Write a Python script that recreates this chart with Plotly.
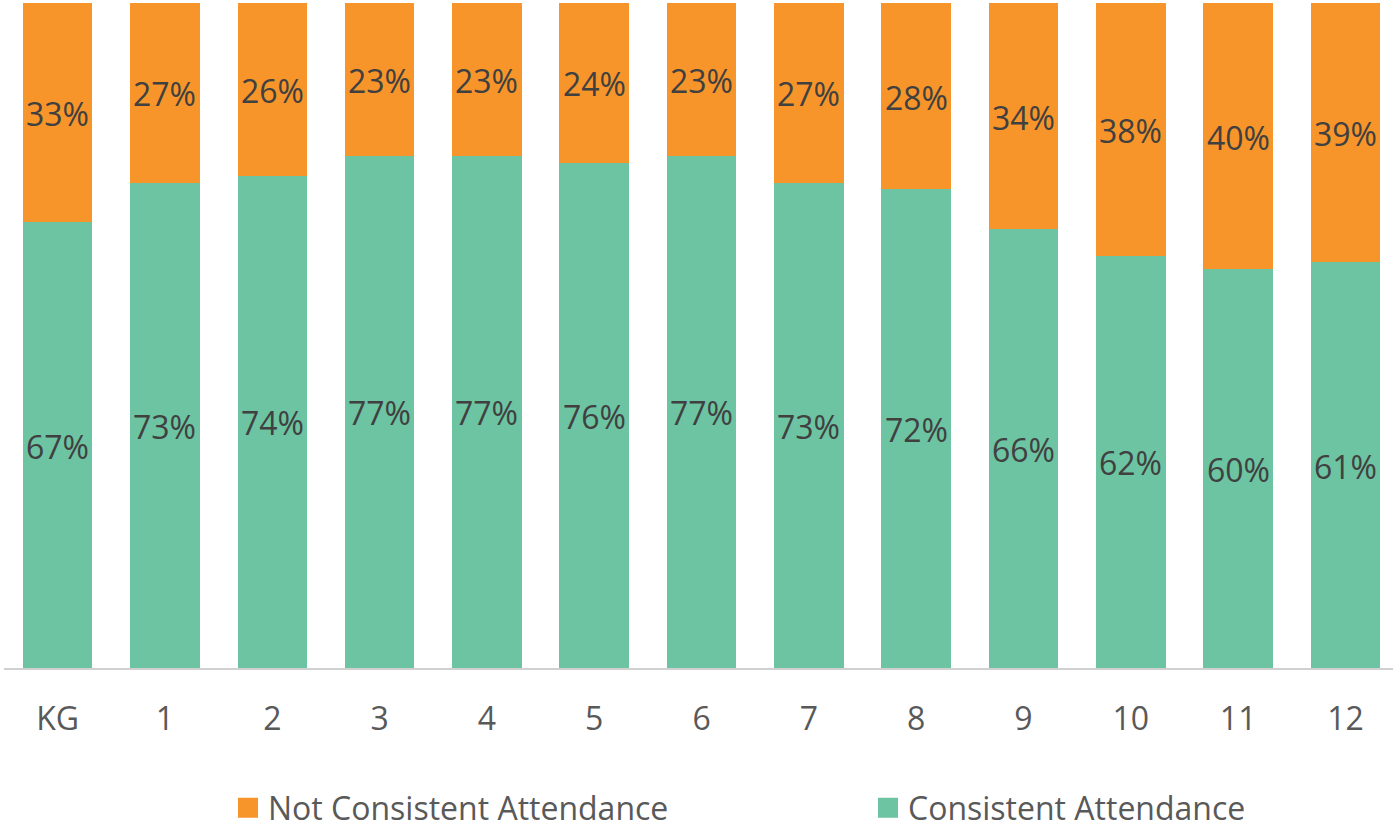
import plotly.graph_objects as go

grades = ["KG", "1", "2", "3", "4", "5", "6", "7", "8", "9", "10", "11", "12"]
consistent = [67, 73, 74, 77, 77, 76, 77, 73, 72, 66, 62, 60, 61]
not_consistent = [33, 27, 26, 23, 23, 24, 23, 27, 28, 34, 38, 40, 39]

GREEN = "#6DC4A2"
ORANGE = "#F7952B"
FONT = "Open Sans"
FS = 32

fig = go.Figure()

# stacked bars
fig.add_trace(go.Bar(
    x=grades, y=consistent, name="Consistent Attendance",
    marker=dict(color=GREEN, line=dict(width=0)),
    showlegend=False, hoverinfo="skip",
))
fig.add_trace(go.Bar(
    x=grades, y=not_consistent, name="Not Consistent Attendance",
    marker=dict(color=ORANGE, line=dict(width=0)),
    showlegend=False, hoverinfo="skip",
))

# percentage labels centred in each segment
mid_green = [c / 2 for c in consistent]
mid_orange = [c + n / 2 for c, n in zip(consistent, not_consistent)]
for mids, vals in ((mid_green, consistent), (mid_orange, not_consistent)):
    for g, m, v in zip(grades, mids, vals):
        fig.add_annotation(
            x=g, y=m, text=f"{v}%", showarrow=False, yshift=-1,
            xanchor="center", yanchor="middle",
            font=dict(family=FONT, size=FS, color="#404040"),
        )

# legend entries with larger square swatches
for name, color in (("Not Consistent Attendance", ORANGE), ("Consistent Attendance", GREEN)):
    fig.add_trace(go.Scatter(
        x=[None], y=[None], mode="markers", name=name,
        marker=dict(symbol="square", size=16, color=color,
                    line=dict(color=color, width=4)),
        hoverinfo="skip",
    ))

fig.update_layout(
    barmode="stack",
    bargap=0.352,
    width=1393, height=828,
    margin=dict(l=4, r=0, t=3, b=160),
    paper_bgcolor="white", plot_bgcolor="white",
    font=dict(family=FONT, color="#595959"),
    showlegend=True,
    legend=dict(
        orientation="h", traceorder="normal",
        xref="container", yref="container",
        x=228 / 1393, xanchor="left",
        y=1 - 808 / 828, yanchor="middle",
        font=dict(family=FONT, size=FS, color="#595959"),
        entrywidth=595, entrywidthmode="pixels",
        bgcolor="rgba(0,0,0,0)",
    ),
    xaxis=dict(
        range=[-0.5, 12.443],
        showline=True, linecolor="#D0D0D0", linewidth=2,
        showgrid=False, zeroline=False, ticks="",
        ticklabelstandoff=22,
        tickfont=dict(family=FONT, size=FS, color="#595959"),
    ),
    yaxis=dict(
        range=[0, 100], visible=False, showgrid=False, zeroline=False,
    ),
)

fig.write_html("out.html")
